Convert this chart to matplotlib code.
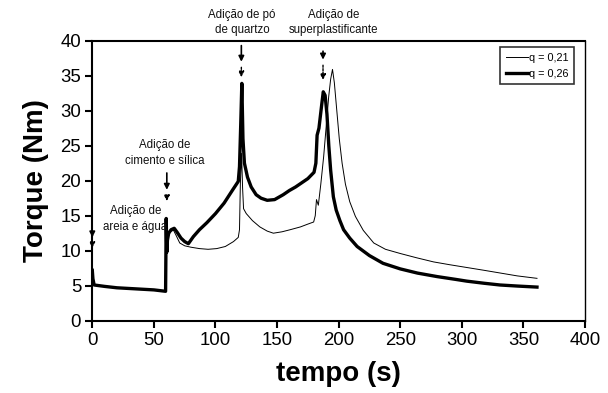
import matplotlib
matplotlib.use("Agg")
from matplotlib import pyplot as plt

plt.rcParams['font.family'] = ['Liberation Sans', 'DejaVu Sans']

# q = 0,21 (linha fina)
t_021 = [0, 0.5, 1.5, 10, 20, 30, 40, 50, 59.5, 60, 60.2, 60.8, 62, 64, 66, 68, 71, 75,
         80, 87, 94, 101, 108, 114.6, 118.5, 119.5, 120.2, 121.2, 122, 122.8, 125, 130,
         136, 142, 147, 154, 160.7, 169, 175, 179.7, 181, 182, 183.5, 185.5, 187.8, 190,
         191.9, 193.5, 195, 196.5, 198.7, 200.5, 202.8, 205.5, 209, 213.6, 220, 228.5,
         238, 250, 263, 277, 290, 304, 318, 331.5, 345, 361]
T_021 = [7.2, 6.0, 5.1, 4.9, 4.7, 4.6, 4.5, 4.4, 4.2, 14.6, 12.0, 10.0, 12.3, 12.8, 12.9,
         12.2, 11.1, 10.7, 10.5, 10.3, 10.2, 10.3, 10.6, 11.3, 11.9, 13.0, 19.6, 23.9,
         19.0, 16.0, 15.3, 14.3, 13.4, 12.8, 12.5, 12.7, 13.0, 13.4, 13.8, 14.1, 15.0,
         17.3, 16.5, 19.5, 23.4, 28.0, 32.0, 34.5, 35.9, 34.0, 29.6, 26.0, 22.5, 19.5,
         17.0, 14.9, 12.9, 11.1, 10.2, 9.6, 9.0, 8.4, 8.0, 7.6, 7.2, 6.8, 6.4, 6.05]

# q = 0,26 (linha grossa)
t_026 = [0, 0.5, 1.5, 10, 20, 30, 40, 50, 59.5, 60, 60.5, 61, 62, 64, 66.5, 69, 72, 75,
         78, 82, 87, 93, 100, 107, 114, 118.5, 119.5, 120.5, 121.4, 122.3, 123.5, 126,
         129, 133, 137, 142, 148, 155, 160, 165, 170, 175, 180, 181.5, 182.5, 184, 186,
         187.5, 189, 190.5, 192, 193.5, 195.7, 198, 201, 204, 209, 215, 225, 236, 250,
         264, 280, 295, 304, 318, 331, 345, 361]
T_026 = [7.2, 6.0, 5.1, 4.9, 4.7, 4.6, 4.5, 4.4, 4.2, 14.6, 9.8, 11.5, 12.5, 13.0, 13.2,
         12.6, 11.8, 11.3, 11.0, 12.0, 13.0, 14.0, 15.3, 16.8, 18.7, 19.9, 22.0, 28.0,
         33.9, 26.0, 22.5, 20.5, 19.1, 18.0, 17.5, 17.2, 17.3, 18.0, 18.6, 19.1, 19.7,
         20.3, 21.2, 22.5, 26.5, 27.5, 30.5, 32.7, 32.2, 29.5, 25.0, 21.5, 17.7, 15.8,
         14.3, 13.0, 11.8, 10.6, 9.3, 8.2, 7.4, 6.8, 6.3, 5.9, 5.65, 5.35, 5.1, 4.95, 4.8]

# eventos: tempo, topo da seta, meio, ponta
ev_t = [0, 60.5, 121, 187.3]
ev_top = [12.6, 21.5, 39.7, 38.9]
ev_mid = [11.5, 18.3, 36.6, 36.9]
ev_bot = [10.0, 16.7, 34.4, 34.0]
ev_txt = ['Adição de\nareia e água', 'Adição de\ncimento e sílica',
          'Adição de pó\nde quartzo', 'Adição de\nsuperplastificante']
txt_xy = [(35, 14.5), (59, 24.0), (121.5, 42.6), (195.7, 42.6)]

fig = plt.figure(figsize=(6.08, 3.93), dpi=100)
ax = fig.add_axes([0.1518, 0.184, 0.8104, 0.7124])

ax.plot(t_021, T_021, color='black', lw=0.7, label='q = 0,21')
ax.plot(t_026, T_026, color='black', lw=2.4, label='q = 0,26')

for i in range(len(ev_t)):
    ax.annotate('', xy=(ev_t[i], ev_mid[i]), xytext=(ev_t[i], ev_top[i]),
                arrowprops=dict(arrowstyle='-|>', color='black', lw=1.2, mutation_scale=8),
                annotation_clip=False)
    ax.annotate('', xy=(ev_t[i], ev_bot[i]), xytext=(ev_t[i], ev_mid[i]),
                arrowprops=dict(arrowstyle='-|>', color='black', lw=1.0, mutation_scale=8,
                                linestyle=(0, (1.5, 1))),
                annotation_clip=False)
    ax.text(txt_xy[i][0], txt_xy[i][1], ev_txt[i], ha='center', va='center',
            fontsize=8.3, linespacing=1.4, clip_on=False, color='#111111')

ax.set_xlim(0, 400)
ax.set_ylim(0, 40)
ax.set_xticks(range(0, 401, 50))
ax.set_yticks(range(0, 41, 5))
ax.tick_params(direction='out', length=5, width=1.5, labelsize=13.4, pad=3)
for s in ax.spines.values():
    s.set_linewidth(1.5)
ax.spines['right'].set_linewidth(1.0)

ax.set_xlabel('tempo (s)', fontsize=20, fontweight='bold', labelpad=9)
ax.set_ylabel('Torque (Nm)', fontsize=20, fontweight='bold', labelpad=8)

leg = ax.legend(loc='upper right', bbox_to_anchor=(0.977, 0.977), borderaxespad=0,
                fontsize=7.8, fancybox=False, handlelength=2.0, handletextpad=0.1,
                borderpad=0.5, labelspacing=0.6)
leg.get_frame().set_edgecolor('black')
leg.get_frame().set_linewidth(1.2)

fig.savefig('out.png', dpi=100)
